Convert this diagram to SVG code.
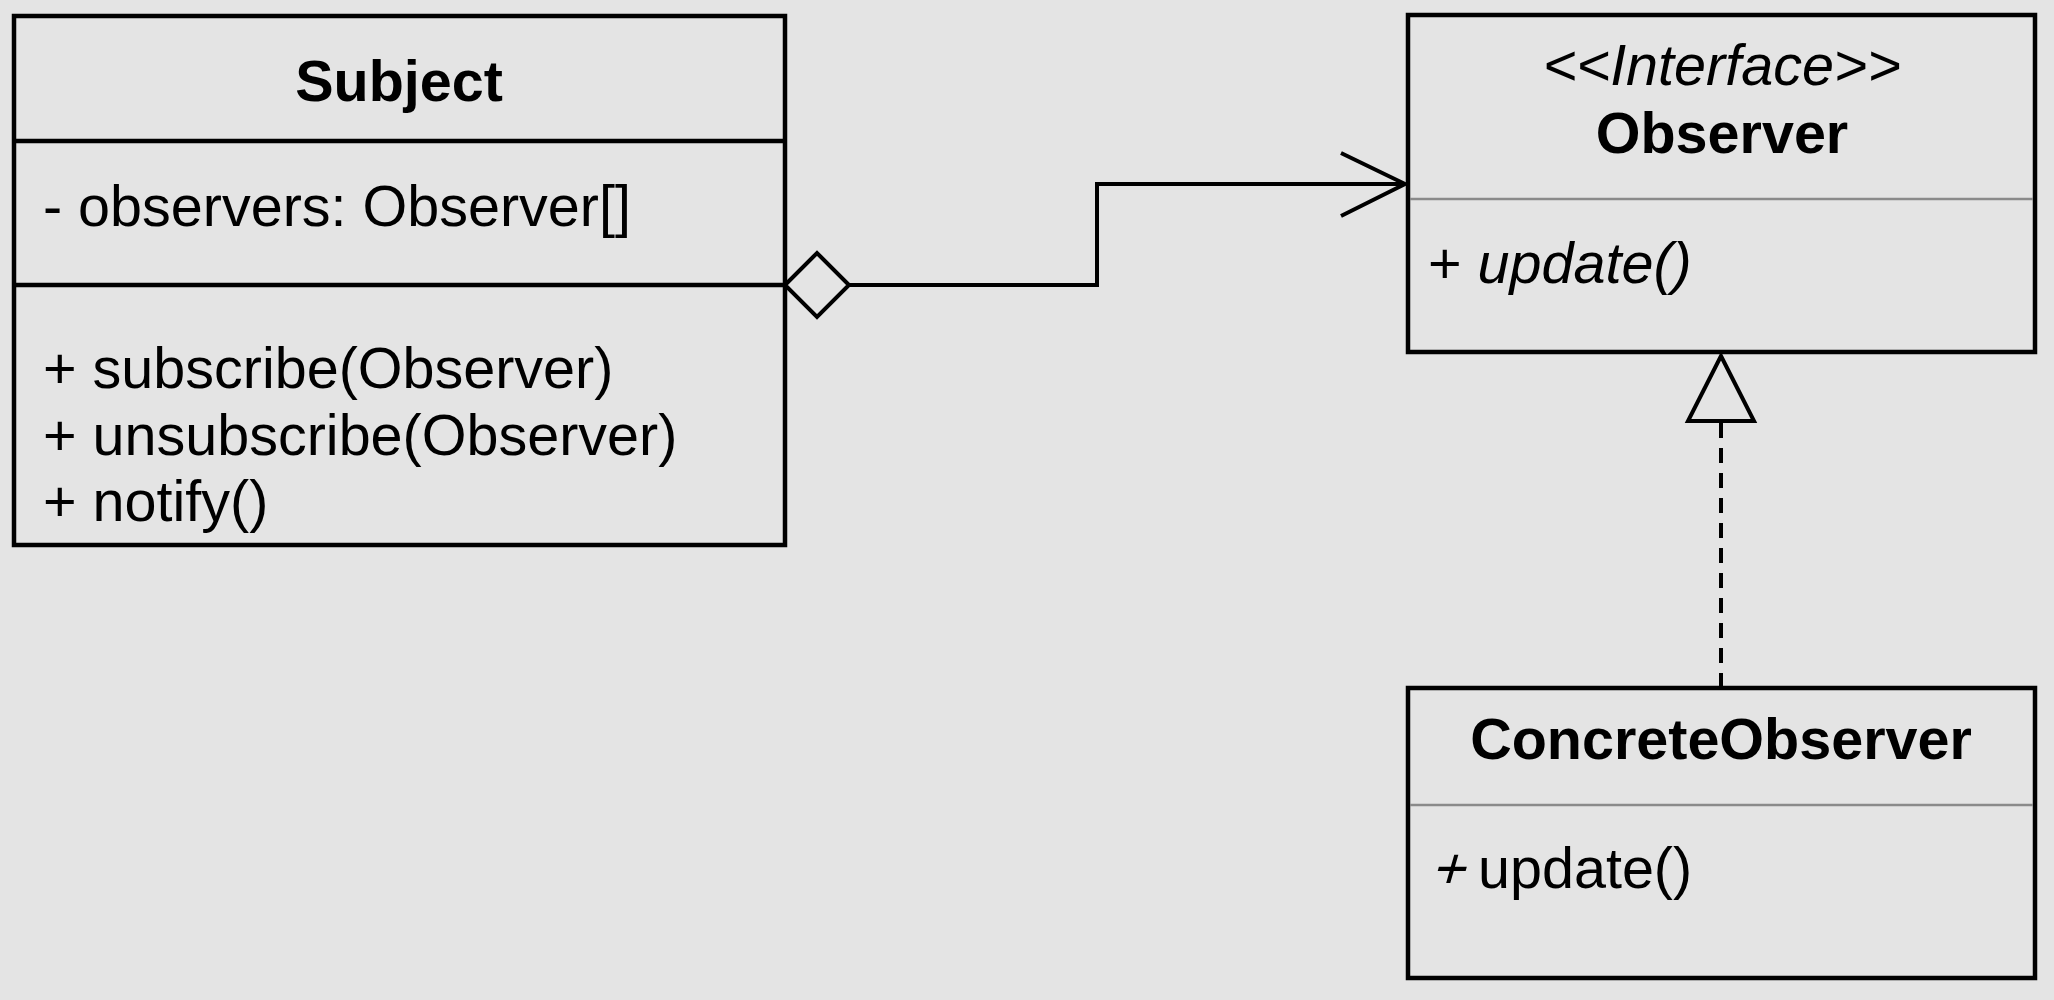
<svg xmlns="http://www.w3.org/2000/svg" width="2054" height="1000" viewBox="0 0 2054 1000">
  <style>
    text { font-family: "Liberation Sans", Arial, sans-serif; font-size: 57.5px; fill: #000; }
    .title { font-weight: bold; text-anchor: middle; }
    .italic { font-style: italic; }
    .box { fill: #e4e4e4; stroke: #000; stroke-width: 4.5; }
    .div { stroke: #000; stroke-width: 4.5; }
    .sep { stroke: #8a8a8a; stroke-width: 2.5; }
    .edge { fill: none; stroke: #000; stroke-width: 4; }
  </style>
  <rect x="0" y="0" width="2054" height="1000" fill="#e4e4e4"/>

  <g id="subject">
    <rect class="box" x="14" y="16" width="771" height="529"/>
    <line class="div" x1="14" y1="141" x2="785" y2="141"/>
    <line class="div" x1="14" y1="285" x2="785" y2="285"/>
    <text class="title" x="399" y="101">Subject</text>
    <text x="43" y="226">- observers: Observer[]</text>
    <text x="43" y="388">+ subscribe(Observer)</text>
    <text x="43" y="455">+ unsubscribe(Observer)</text>
    <text x="43" y="521">+ notify()</text>
  </g>

  <g id="observer">
    <rect class="box" x="1408" y="15" width="627" height="337"/>
    <line class="sep" x1="1410" y1="199" x2="2033" y2="199"/>
    <text class="title italic" x="1722" y="85" style="font-weight:normal">&lt;&lt;Interface&gt;&gt;</text>
    <text class="title" x="1722" y="153">Observer</text>
    <text x="1428" y="283">+ <tspan class="italic">update()</tspan></text>
  </g>

  <g id="concrete-observer">
    <rect class="box" x="1408" y="688" width="627" height="290"/>
    <line class="sep" x1="1410" y1="805" x2="2033" y2="805"/>
    <text class="title" x="1721" y="759">ConcreteObserver</text>
    <text transform="translate(1430,888) skewX(-16)">+</text>
    <text x="1478" y="888">update()</text>
  </g>

  <g id="connectors">
    <!-- aggregation: Subject holds Observers -->
    <polyline class="edge" points="849,285 1097,285 1097,184 1405,184"/>
    <polygon class="edge" points="785,285 817,253 849,285 817,317"/>
    <polyline class="edge" points="1341,153 1405,184 1341,216"/>
    <!-- realization: ConcreteObserver implements Observer -->
    <line class="edge" x1="1721" y1="688" x2="1721" y2="421" stroke-dasharray="15,10"/>
    <polygon class="edge" points="1721,356 1754,421 1688,421"/>
  </g>
</svg>
